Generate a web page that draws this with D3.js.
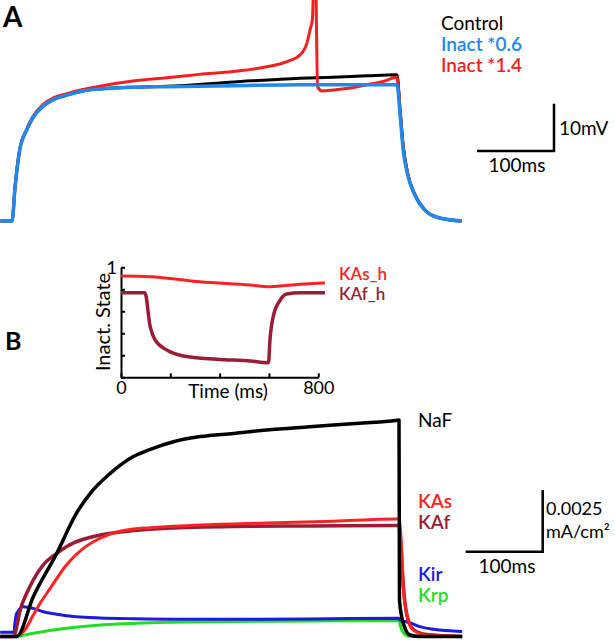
<!DOCTYPE html>
<html>
<head>
<meta charset="utf-8">
<script src="https://cdn.jsdelivr.net/npm/d3@7"></script>
<style>
  body { margin: 0; background: #fff; }
  svg { display: block; font-family: Lato, "Open Sans", sans-serif; }
</style>
</head>
<body>
<div id="chart"></div>
<script>
// Panel A: membrane voltage (mV) vs time (ms), step current 100-600 ms
const tCtrl = [85,100,104,110,119,127,140,153,171,192,214,257,301,388,474,517,561,600,604,608,614,623,636,652,684];
const vCtrl = [-80,-80,-72.8,-65.0,-60.8,-58.2,-55.8,-54.4,-53.4,-52.5,-52.1,-51.7,-51.5,-50.6,-49.8,-49.6,-49.3,-49.1,-56.5,-64,-70,-74.3,-77.6,-79.2,-80];
const tInact06 = [85,100,104,110,119,127,140,153,171,192,214,257,301,388,474,600,604,608,614,623,636,652,684];
const vInact06 = [-80,-80,-72.8,-65.0,-60.8,-58.2,-55.8,-54.4,-53.4,-52.5,-52.1,-51.7,-51.6,-51.4,-51.2,-51.2,-57.6,-65,-70.3,-74.5,-77.7,-79.2,-80];
const tInact14 = [85,100,104,110,119,127,140,153,171,192,214,257,301,344,387,431,457,474,483,487,490,491,493,495,497,503,517,539,561,582,600,604,608,614,623,636,652,684];
const vInact14 = [-80,-80,-72.7,-64.9,-60.6,-57.9,-55.4,-54.0,-53.1,-52.2,-51.5,-50.4,-49.7,-49.0,-48.4,-47.4,-46.3,-44.9,-42.4,-39.6,-37.5,-33.3,10,-33,-51.7,-52.5,-52.3,-51.9,-51.2,-50.5,-49.6,-56.5,-64.5,-70.2,-74.4,-77.7,-79.2,-80];

// Inset: inactivation state vs time (ms)
const tKAsH = [0,118,320,523,604,726,827];
const vKAsH = [0.921,0.915,0.869,0.839,0.824,0.846,0.858];
const tKAfH = [0,97,118,138,186,252,389,525,598,604,617,645,672,726,827];
const vKAfH = [0.769,0.769,0.464,0.340,0.248,0.194,0.164,0.148,0.133,0.34,0.55,0.70,0.757,0.769,0.769];
const insetYTicks = [0,0.2,0.4,0.6,0.8,1];
const insetXTicks = [0,200,400,600,800];

// Panel B: currents, in units of 0.001 mA/cm2
const tNaF = [82,100,103.5,125,155.5,181,199,225,255,277,307,342,385,428,484,515,558,598,600,600.6,603.5,607.8,614.3,627,682];
const iNaF = [0,0,0,1.61,3.37,4.99,5.80,6.61,7.29,7.58,7.89,8.10,8.23,8.37,8.50,8.57,8.66,8.76,8.77,1.48,0.80,0.33,0.06,0,0];
const tKAs = [82,100,101.3,114,125,134,147,168,190,212,233,255,277,342,428,515,597,600,603.5,605.6,610,618.6,636,682];
const iKAs = [0,0,0,0.26,0.87,1.35,1.95,2.90,3.57,3.98,4.23,4.36,4.41,4.52,4.60,4.67,4.76,4.76,3.5,2.0,0.94,0.26,0.06,0];
const tKAf = [82,100,103.5,108,116.5,125,138,155.5,168,190,212,255,298,385,484,597,600,603,606,610,618,636,682];
const iKAf = [0,0,0.40,1.07,1.75,2.29,2.90,3.37,3.64,3.94,4.11,4.29,4.39,4.46,4.48,4.50,4.50,3.3,1.9,0.9,0.3,0.08,0];
const tKir = [82,100,101,103.5,112,125,138,155.5,181,212,255,320,484,600,601.3,614,627,645,682];
const iKir = [0.17,0.17,0.5,0.94,1.21,1.14,1.00,0.90,0.80,0.75,0.72,0.70,0.71,0.74,0.67,0.56,0.40,0.29,0.20];
const tKrp = [82,100,101.3,125,168,212,277,342,484,600,602,608.7,617,682];
const iKrp = [0,0,0,0.13,0.33,0.47,0.56,0.60,0.63,0.65,0.40,0.06,0,0];

const width = 615, height = 640;

const svg = d3.select("#chart").append("svg")
  .attr("width", width)
  .attr("height", height);

svg.append("rect").attr("width", width).attr("height", height).attr("fill", "#fff");

function trace(g, x, y, ts, vs, color, w) {
  const line = d3.line()
    .x(d => x(d[0]))
    .y(d => y(d[1]))
    .curve(d3.curveMonotoneX);
  g.append("path")
    .datum(d3.zip(ts, vs))
    .attr("d", line)
    .attr("fill", "none")
    .attr("stroke", color)
    .attr("stroke-width", w)
    .attr("stroke-linejoin", "round");
}

function label(g, x, y, txt, color, size, anchor) {
  return g.append("text")
    .attr("x", x).attr("y", y)
    .attr("fill", color)
    .attr("font-size", size)
    .attr("text-anchor", anchor || "start")
    .text(txt);
}

// ---- panel A ----
const xA = d3.scaleLinear().domain([84.4, 684.4]).range([0, 462]);
const yA = d3.scaleLinear().domain([-80, -70]).range([221, 173.7]);
const gA = svg.append("g");

trace(gA, xA, yA, tCtrl, vCtrl, "#000", 3);
trace(gA, xA, yA, tInact14, vInact14, "#f41f1f", 3);
trace(gA, xA, yA, tInact06, vInact06, "#2288ee", 3.5);

label(gA, 3, 27, "A", "#000", 28).attr("font-weight", "bold");
label(gA, 441, 30, "Control", "#000", 19);
label(gA, 441, 51, "Inact *0.6", "#2288ee", 19).attr("font-weight", 600);
label(gA, 441, 72, "Inact *1.4", "#f41f1f", 19).attr("font-weight", 600);

// scale bar A (100 ms, 10 mV)
const sbAx = 554, sbAy = 151;
gA.append("path")
  .attr("d", `M${sbAx - (xA(200) - xA(100))},${sbAy}H${sbAx}V${sbAy - (yA(-80) - yA(-70))}`)
  .attr("fill", "none").attr("stroke", "#000").attr("stroke-width", 2.5);
label(gA, 559, 135, "10mV", "#000", 19);
label(gA, 517, 172, "100ms", "#000", 19, "middle");

// ---- inset ----
const xI = d3.scaleLinear().domain([0, 800]).range([121, 318.3]);
const yI = d3.scaleLinear().domain([0, 1]).range([377.3, 267.3]);
const gI = svg.append("g");

gI.append("g")
  .attr("transform", `translate(${xI(0)},0)`)
  .call(d3.axisLeft(yI).tickValues(insetYTicks).tickSizeInner(-4).tickSizeOuter(0).tickPadding(4)
    .tickFormat(d => d === 1 ? "1" : ""));
gI.append("g")
  .attr("transform", `translate(0,${yI(0)})`)
  .call(d3.axisBottom(xI).tickValues(insetXTicks).tickSizeInner(-4).tickSizeOuter(0).tickPadding(4)
    .tickFormat(d => (d === 0 || d === 800) ? d : ""));
gI.selectAll(".domain, .tick line").attr("stroke", "#000").attr("stroke-width", 2);
gI.selectAll(".tick text").attr("font-size", 18).attr("font-family", "Lato, sans-serif").attr("fill", "#000");

trace(gI, xI, yI, tKAsH, vKAsH, "#fa2222", 3);
trace(gI, xI, yI, tKAfH, vKAfH, "#9a1c36", 3.5);

label(gI, 228, 398, "Time (ms)", "#000", 19, "middle");
label(gI, 0, 0, "Inact. State", "#000", 20, "middle")
  .attr("transform", "translate(110,322) rotate(-90)");
label(gI, 339, 280, "KAs_h", "#fa2222", 17).attr("font-weight", 600);
label(gI, 339, 300, "KAf_h", "#9a1c36", 17).attr("font-weight", 600);

// ---- panel B ----
const xB = d3.scaleLinear().domain([81.8, 681.8]).range([0, 462]);
const yB = d3.scaleLinear().domain([0, 2.5]).range([636.5, 574.8]);
const gB = svg.append("g");

trace(gB, xB, yB, tKrp, iKrp, "#22dd22", 3);
trace(gB, xB, yB, tKir, iKir, "#1a1ae0", 3);
trace(gB, xB, yB, tKAf, iKAf, "#9a1c36", 3.5);
trace(gB, xB, yB, tKAs, iKAs, "#fa2222", 3);
trace(gB, xB, yB, tNaF, iNaF, "#000", 3.5);

label(gB, 5, 350, "B", "#000", 25).attr("font-weight", "bold");
label(gB, 418, 427, "NaF", "#000", 19);
label(gB, 418, 508, "KAs", "#fa2222", 19).attr("font-weight", 600);
label(gB, 418, 529, "KAf", "#9a1c36", 19).attr("font-weight", 600);
label(gB, 418, 581, "Kir", "#1a1ae0", 19).attr("font-weight", 600);
label(gB, 418, 602, "Krp", "#22dd22", 19).attr("font-weight", 600);

// scale bar B (100 ms, 0.0025 mA/cm2)
const sbBx = 542.7, sbBy = 551.7;
gB.append("path")
  .attr("d", `M${sbBx - (xB(200) - xB(100))},${sbBy}H${sbBx}V${sbBy - (yB(0) - yB(2.5))}`)
  .attr("fill", "none").attr("stroke", "#000").attr("stroke-width", 2.5);
label(gB, 546, 515, "0.0025", "#000", 18);
label(gB, 546, 538, "mA/cm²", "#000", 18);
label(gB, 507, 573, "100ms", "#000", 19, "middle");
</script>
</body>
</html>
